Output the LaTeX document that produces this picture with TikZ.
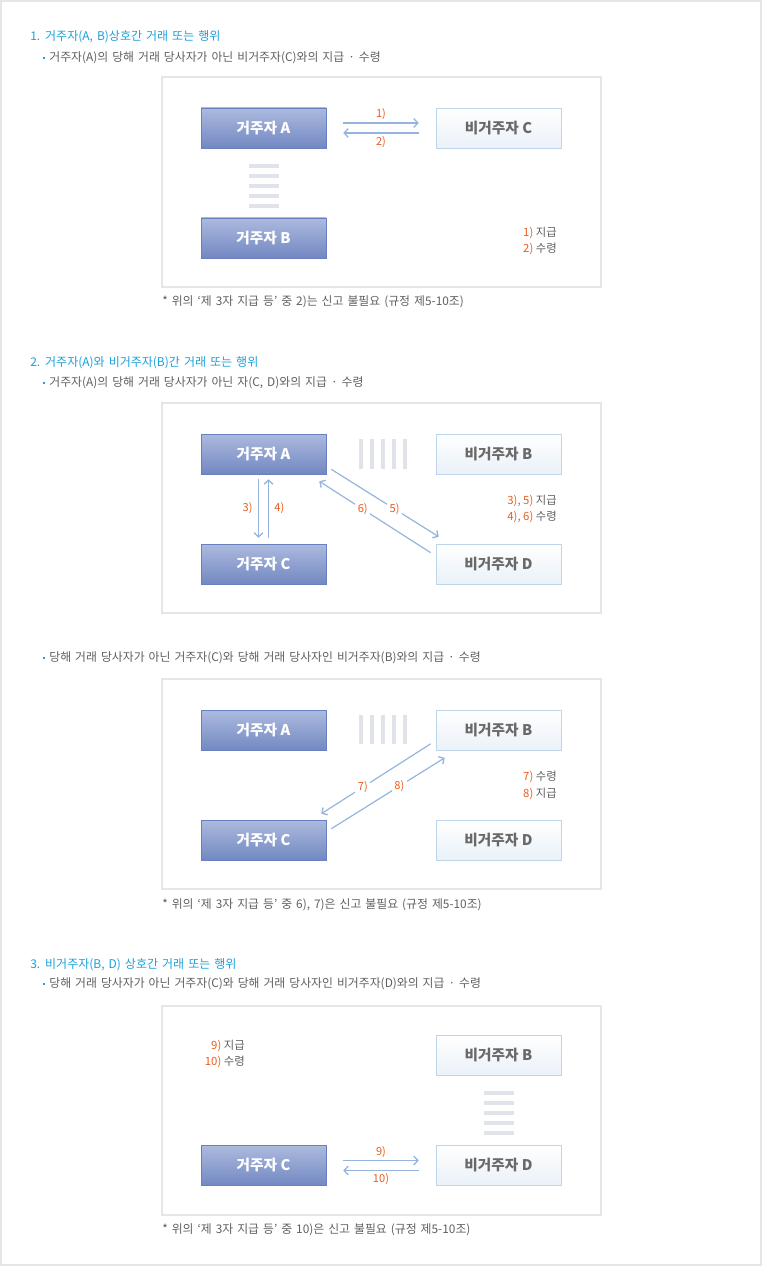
\documentclass[tikz,border=0pt]{standalone}
\usepackage{fontspec}
\setmainfont{Noto Sans CJK KR}
\newfontfamily\widefont{Noto Sans CJK KR}[WordSpace=1.5]
\usetikzlibrary{calc,arrows.meta}

\definecolor{headblue}{RGB}{26,160,218}
\definecolor{txtgray}{RGB}{95,95,95}
\definecolor{nrorange}{RGB}{236,92,30}
\definecolor{framegray}{RGB}{230,230,230}
\definecolor{stripegray}{RGB}{224,227,233}
\definecolor{arrblue}{RGB}{150,180,222}
\definecolor{restop}{RGB}{172,186,222}
\definecolor{resbot}{RGB}{114,136,194}
\definecolor{resline}{RGB}{106,128,190}
\definecolor{nonbot}{RGB}{234,241,248}
\definecolor{nonline}{RGB}{190,213,234}
\definecolor{nontxt}{RGB}{105,105,105}

\newcommand{\nr}[1]{\textcolor{nrorange}{#1}}
\newcommand{\bul}{\textcolor{headblue}{\rule[0.25em]{1.6pt}{1.6pt}}\hspace{3pt}}

\tikzset{
	resbox/.style={draw=resline, top color=restop, bottom color=resbot, minimum width=93.75pt, minimum height=30pt, inner sep=0pt, text=white, font=\bfseries\fontsize{11}{13}\selectfont},
	nonbox/.style={draw=nonline, top color=white, bottom color=nonbot, minimum width=93.75pt, minimum height=30pt, inner sep=0pt, text=nontxt, font=\bfseries\fontsize{11}{13}\selectfont},
	panel/.style={draw=framegray, line width=0.8pt},
	arr/.style={draw=arrblue, line width=0.9pt, -{Straight Barb[length=3pt,width=6.5pt,line width=1pt]}},
	lbl/.style={text=nrorange, font=\fontsize{8.3}{10}\selectfont, inner sep=1pt},
	onlbl/.style={lbl, fill=white, inner sep=2pt},
	head/.style={anchor=west, text=headblue, font=\widefont\fontsize{9}{11}\selectfont, inner sep=0pt},
	sub/.style={anchor=west, text=txtgray, font=\widefont\fontsize{8.9}{11}\selectfont, inner sep=0pt},
	leg/.style={anchor=east, text=txtgray, font=\fontsize{8.5}{10}\selectfont, inner sep=0pt}
}

\begin{document}
\begin{tikzpicture}[x=0.75pt, y=-0.75pt]
	\useasboundingbox (0,0) rectangle (762,1266);
	\draw[framegray, line width=1.2pt] (1,1) rectangle (761,1265);

	\node[head] (h1) at (30,37) {1. 거주자(A, B)상호간 거래 또는 행위};
	\node[sub] (s1) at (43,58) {\bul 거주자(A)의 당해 거래 당사자가 아닌 비거주자(C)와의 지급 · 수령};
	\draw[panel] (162,77) rectangle (601,287);
	\node[resbox] (A1) at (263.5,128) {거주자 A};
	\node[nonbox] (C1) at (498.5,128) {비거주자 C};
	\node[resbox] (B1) at (263.5,238) {거주자 B};
	\foreach \y in {164,174,...,204}
		\fill[stripegray] (249,\y) rectangle (279,\y+4);
	\draw[arr] ($(A1.east)+(17,-5)$) -- ($(C1.west)+(-17,-5)$) node[midway, lbl, anchor=south, yshift=1pt] {1)};
	\draw[arr] ($(C1.west)+(-17,5)$) -- ($(A1.east)+(17,5)$) node[midway, lbl, anchor=north, yshift=-1pt] {2)};
	\node[leg] (l1) at (557,233) {\nr{1)} 지급};
	\node[leg] (l2) at (557,249) {\nr{2)} 수령};
	\node[sub] (n1) at (162,302) {* 위의 ‘제 3자 지급 등’ 중 2)는 신고 불필요 (규정 제5-10조)};

	\node[head] (h2) at (30,363) {2. 거주자(A)와 비거주자(B)간 거래 또는 행위};
	\node[sub] (s2) at (43,383) {\bul 거주자(A)의 당해 거래 당사자가 아닌 자(C, D)와의 지급 · 수령};
	\draw[panel] (162,403) rectangle (601,613);
	\node[resbox] (A2) at (263.5,454) {거주자 A};
	\node[nonbox] (B2) at (498.5,454) {비거주자 B};
	\node[resbox] (C2) at (263.5,564) {거주자 C};
	\node[nonbox] (D2) at (498.5,564) {비거주자 D};
	\foreach \x in {359,370,381,392,403}
		\fill[stripegray] (\x,439) rectangle (\x+4,469);
	\draw[arr] ($(A2.south)+(-5,5)$) -- ($(C2.north)+(-5,-6)$) node[midway, lbl, anchor=east, xshift=-3pt] {3)};
	\draw[arr] ($(C2.north)+(5,-6)$) -- ($(A2.south)+(5,5)$) node[midway, lbl, anchor=west, xshift=3pt] {4)};
	\draw[arr] ($(A2.south east)+(5,-5)$) -- ($(D2.north west)+(3,-7)$) node[pos=0.59, onlbl] {5)};
	\draw[arr] ($(D2.north west)+(-5,9)$) -- ($(A2.south east)+(-7,7)$) node[pos=0.61, onlbl] {6)};
	\node[leg] (l3) at (557,501) {\nr{3), 5)} 지급};
	\node[leg] (l4) at (557,517) {\nr{4), 6)} 수령};

	\node[sub] (s3) at (43,658) {\bul 당해 거래 당사자가 아닌 거주자(C)와 당해 거래 당사자인 비거주자(B)와의 지급 · 수령};
	\draw[panel] (162,679) rectangle (601,889);
	\node[resbox] (A3) at (263.5,730.5) {거주자 A};
	\node[nonbox] (B3) at (498.5,730.5) {비거주자 B};
	\node[resbox] (C3) at (263.5,840) {거주자 C};
	\node[nonbox] (D3) at (498.5,840) {비거주자 D};
	\foreach \x in {359,370,381,392,403}
		\fill[stripegray] (\x,715) rectangle (\x+4,744);
	\draw[arr] ($(B3.south west)+(-5,-7)$) -- ($(C3.north east)+(-5,-6)$) node[pos=0.62, onlbl] {7)};
	\draw[arr] ($(C3.north east)+(5,9)$) -- ($(B3.south west)+(9,7)$) node[pos=0.6, onlbl] {8)};
	\node[leg] (l5) at (557,777) {\nr{7)} 수령};
	\node[leg] (l6) at (557,794) {\nr{8)} 지급};
	\node[sub] (n3) at (162,905) {* 위의 ‘제 3자 지급 등’ 중 6), 7)은 신고 불필요 (규정 제5-10조)};

	\node[head] (h4) at (30,965) {3. 비거주자(B, D) 상호간 거래 또는 행위};
	\node[sub] (s4) at (43,984) {\bul 당해 거래 당사자가 아닌 거주자(C)와 당해 거래 당사자인 비거주자(D)와의 지급 · 수령};
	\draw[panel] (162,1006) rectangle (601,1215);
	\node[nonbox] (B4) at (498.5,1055.5) {비거주자 B};
	\node[resbox] (C4) at (263.5,1165.5) {거주자 C};
	\node[nonbox] (D4) at (498.5,1165.5) {비거주자 D};
	\foreach \y in {1091,1101,...,1131}
		\fill[stripegray] (484,\y) rectangle (514,\y+4);
	\draw[arr] ($(C4.east)+(17,-5)$) -- ($(D4.west)+(-17,-5)$) node[midway, lbl, anchor=south, yshift=1pt] {9)};
	\draw[arr] ($(D4.west)+(-17,5)$) -- ($(C4.east)+(17,5)$) node[midway, lbl, anchor=north, yshift=-1pt] {10)};
	\node[leg] (l7) at (245,1046) {\nr{9)} 지급};
	\node[leg] (l8) at (245,1062) {\nr{10)} 수령};
	\node[sub] (n4) at (162,1230) {* 위의 ‘제 3자 지급 등’ 중 10)은 신고 불필요 (규정 제5-10조)};
\end{tikzpicture}
\end{document}
